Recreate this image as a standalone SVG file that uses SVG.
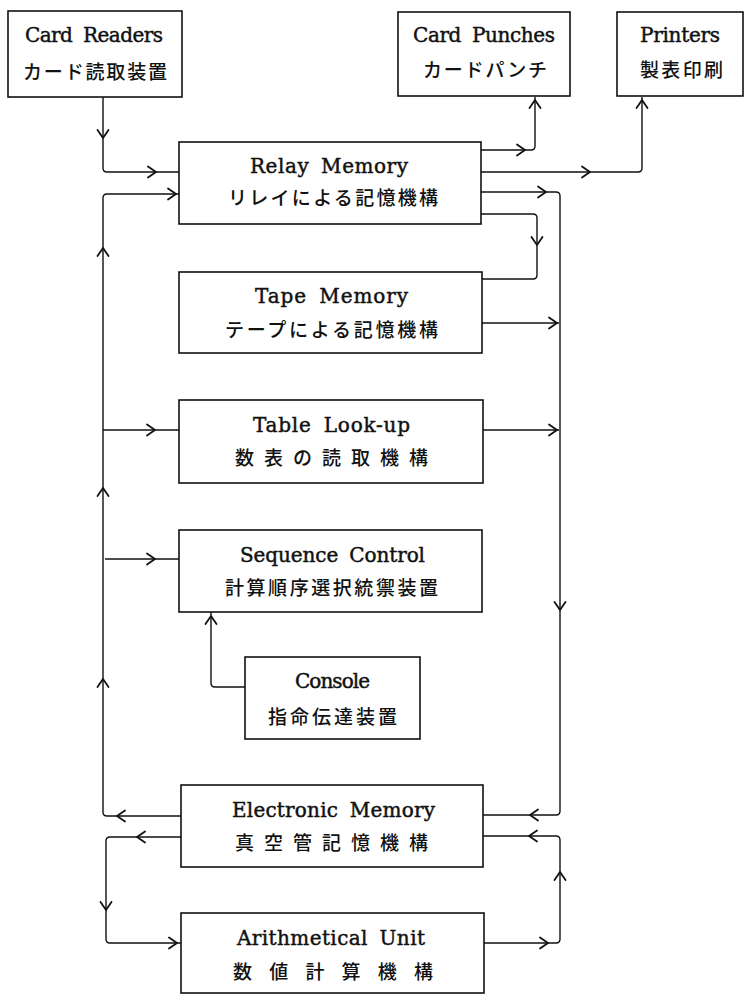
<svg xmlns="http://www.w3.org/2000/svg" xmlns:xlink="http://www.w3.org/1999/xlink" width="744" height="994" viewBox="0 0 744 994">
<style>
.box{fill:#fff;stroke:#111;stroke-width:1.6}
.ln{fill:none;stroke:#111;stroke-width:1.4}
.ah{fill:none;stroke:#111;stroke-width:1.8;stroke-linecap:round;stroke-linejoin:round}
.en{font-family:"DejaVu Serif","Liberation Serif",serif;font-size:20px;fill:#111;stroke:#111;stroke-width:0.45;word-spacing:5px}
.jp{font-family:"Noto Sans CJK JP","Noto Sans CJK SC",sans-serif;font-size:19px;font-weight:500;fill:#111}
</style>
<defs>
<path id="ah" d="M-8,-5.5 L0,0 L-8,5.5"/>
</defs>
<rect width="744" height="994" fill="#fff"/>

<g id="connectors">
<path class="ln" d="M103,97 V168 Q103,172 107,172 H179"/>
<path class="ln" d="M181,816 H107 Q103,816 103,812 V198 Q103,194 107,194 H179"/>
<path class="ln" d="M103,430 H179"/>
<path class="ln" d="M105,559 H179"/>
<path class="ln" d="M481,150 H531 Q535,150 535,146 V97"/>
<path class="ln" d="M481,172 H638 Q642,172 642,168 V97"/>
<path class="ln" d="M481,192 H556 Q560,192 560,196 V811 Q560,815 556,815 H483"/>
<path class="ln" d="M481,214 H533 Q537,214 537,218 V275 Q537,279 533,279 H482"/>
<path class="ln" d="M482,323 H559"/>
<path class="ln" d="M483,430 H559"/>
<path class="ln" d="M245,687 H215 Q211,687 211,683 V612"/>
<path class="ln" d="M181,837 H110 Q106,837 106,841 V939 Q106,943 110,943 H181"/>
<path class="ln" d="M484,943 H556 Q560,943 560,939 V840 Q560,836 556,836 H483"/>
<g class="ah">
<use xlink:href="#ah" transform="translate(103,138) rotate(90)"/>
<use xlink:href="#ah" transform="translate(156,172)"/>
<use xlink:href="#ah" transform="translate(176,194)"/>
<use xlink:href="#ah" transform="translate(103,248) rotate(-90)"/>
<use xlink:href="#ah" transform="translate(103,488) rotate(-90)"/>
<use xlink:href="#ah" transform="translate(103,679) rotate(-90)"/>
<use xlink:href="#ah" transform="translate(155,430)"/>
<use xlink:href="#ah" transform="translate(155,559)"/>
<use xlink:href="#ah" transform="translate(117,816) rotate(180)"/>
<use xlink:href="#ah" transform="translate(525,150)"/>
<use xlink:href="#ah" transform="translate(535,100) rotate(-90)"/>
<use xlink:href="#ah" transform="translate(590,172)"/>
<use xlink:href="#ah" transform="translate(642,100) rotate(-90)"/>
<use xlink:href="#ah" transform="translate(546,192)"/>
<use xlink:href="#ah" transform="translate(560,610) rotate(90)"/>
<use xlink:href="#ah" transform="translate(530,815) rotate(180)"/>
<use xlink:href="#ah" transform="translate(537,245) rotate(90)"/>
<use xlink:href="#ah" transform="translate(557,323)"/>
<use xlink:href="#ah" transform="translate(557,430)"/>
<use xlink:href="#ah" transform="translate(211,616) rotate(-90)"/>
<use xlink:href="#ah" transform="translate(137,837) rotate(180)"/>
<use xlink:href="#ah" transform="translate(106,910) rotate(90)"/>
<use xlink:href="#ah" transform="translate(177,943)"/>
<use xlink:href="#ah" transform="translate(548,943)"/>
<use xlink:href="#ah" transform="translate(560,872) rotate(-90)"/>
<use xlink:href="#ah" transform="translate(529,836) rotate(180)"/>
</g>
</g>

<g id="card-readers">
<rect class="box" x="8" y="11" width="174" height="86"/>
<text class="en" x="25" y="42" textLength="138" lengthAdjust="spacing">Card Readers</text>
<text class="jp" x="23" y="79" textLength="144" lengthAdjust="spacing">カード読取装置</text>
</g>
<g id="card-punches">
<rect class="box" x="398" y="12" width="172" height="84"/>
<text class="en" x="413" y="42" textLength="142" lengthAdjust="spacing">Card Punches</text>
<text class="jp" x="423" y="77" textLength="124" lengthAdjust="spacing">カードパンチ</text>
</g>
<g id="printers">
<rect class="box" x="617" y="12" width="126" height="84"/>
<text class="en" x="640" y="42" textLength="80" lengthAdjust="spacing">Printers</text>
<text class="jp" x="640" y="77" textLength="83" lengthAdjust="spacing">製表印刷</text>
</g>
<g id="relay-memory">
<rect class="box" x="179" y="142" width="302" height="82"/>
<text class="en" x="250" y="173" textLength="158" lengthAdjust="spacing">Relay Memory</text>
<text class="jp" x="228" y="205" textLength="210" lengthAdjust="spacing">リレイによる記憶機構</text>
</g>
<g id="tape-memory">
<rect class="box" x="179" y="272" width="303" height="81"/>
<text class="en" x="255" y="303" textLength="153" lengthAdjust="spacing">Tape Memory</text>
<text class="jp" x="225" y="337" textLength="213" lengthAdjust="spacing">テープによる記憶機構</text>
</g>
<g id="table-lookup">
<rect class="box" x="179" y="400" width="304" height="83"/>
<text class="en" x="253" y="432" textLength="157" lengthAdjust="spacing">Table Look-up</text>
<text class="jp" x="235" y="465" textLength="193" lengthAdjust="spacing">数表の読取機構</text>
</g>
<g id="sequence-control">
<rect class="box" x="179" y="530" width="303" height="82"/>
<text class="en" x="240" y="562" textLength="185" lengthAdjust="spacing">Sequence Control</text>
<text class="jp" x="225" y="595" textLength="213" lengthAdjust="spacing">計算順序選択統禦装置</text>
</g>
<g id="console">
<rect class="box" x="245" y="657" width="175" height="82"/>
<text class="en" x="295" y="688" textLength="75" lengthAdjust="spacing">Console</text>
<text class="jp" x="268" y="724" textLength="129" lengthAdjust="spacing">指命伝達装置</text>
</g>
<g id="electronic-memory">
<rect class="box" x="181" y="785" width="302" height="82"/>
<text class="en" x="232" y="817" textLength="203" lengthAdjust="spacing">Electronic Memory</text>
<text class="jp" x="235" y="850" textLength="193" lengthAdjust="spacing">真空管記憶機構</text>
</g>
<g id="arithmetical-unit">
<rect class="box" x="181" y="913" width="303" height="80"/>
<text class="en" x="237" y="945" textLength="188" lengthAdjust="spacing">Arithmetical Unit</text>
<text class="jp" x="233" y="979" textLength="200" lengthAdjust="spacing">数値計算機構</text>
</g>
</svg>
